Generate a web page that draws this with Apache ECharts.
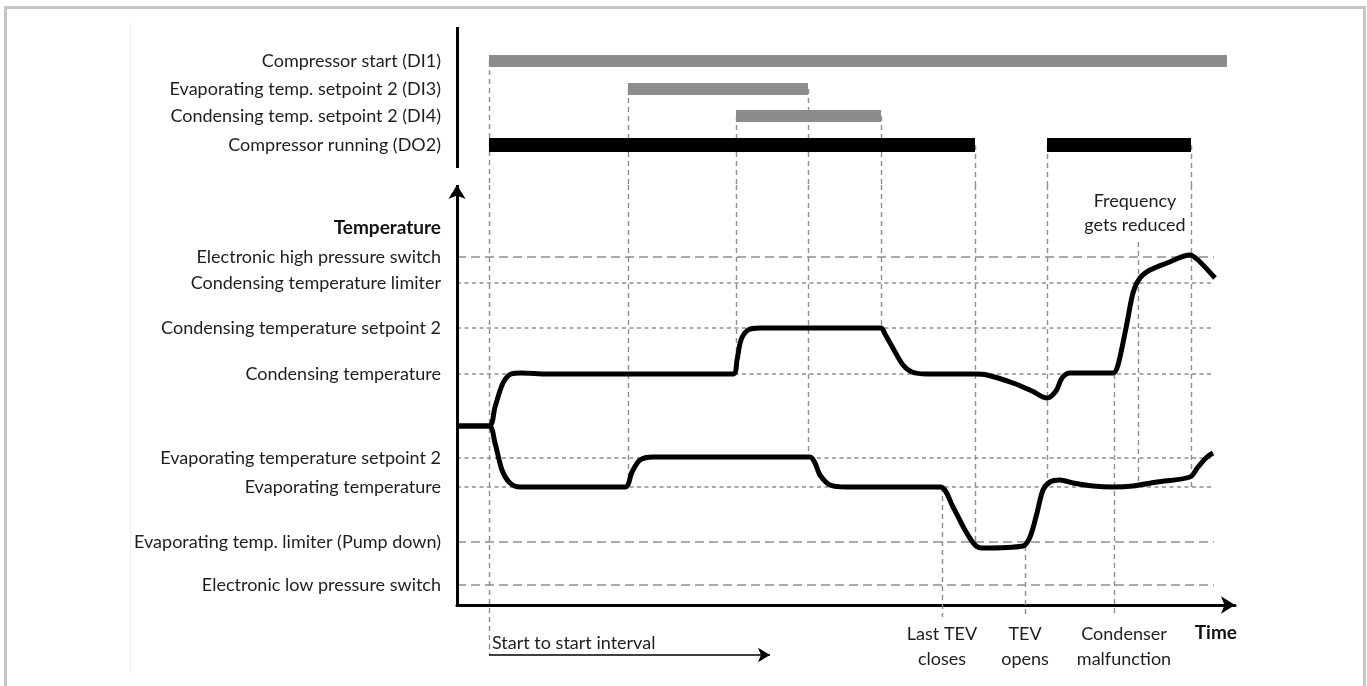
<!DOCTYPE html>
<html><head><meta charset="utf-8">
<script src="https://cdn.jsdelivr.net/npm/echarts@6/dist/echarts.min.js"></script>
<style>
html,body{margin:0;padding:0;background:#fff;overflow:hidden}
#frame{position:absolute;left:4px;top:6px;width:1362px;height:700px;border:3px solid #c6c6ca;border-bottom:none;box-sizing:border-box}
#faint{position:absolute;left:130px;top:22px;width:1px;height:651px;background:#eeeeee}
#chart{position:absolute;left:0;top:0;width:1367px;height:686px}
</style></head><body>
<div id="frame"></div><div id="faint"></div><div id="chart"></div>
<script>
// ---------- data ----------
const signalNames = ['Compressor start (DI1)', 'Evaporating temp. setpoint 2 (DI3)', 'Condensing temp. setpoint 2 (DI4)', 'Compressor running (DO2)'];
const signalRows = [34, 62, 89, 118];
const signalOn = [[[32, 770]], [[171, 351]], [[279, 424]], [[32, 518], [590, 734]]];

const levelNames = ['Electronic high pressure switch', 'Condensing temperature limiter', 'Condensing temperature setpoint 2', 'Condensing temperature', 'Evaporating temperature setpoint 2', 'Evaporating temperature', 'Evaporating temp. limiter (Pump down)', 'Electronic low pressure switch'];
const levelValues = [348, 322, 277, 231, 147, 118, 63, 20];
const levelLongDash = [true, false, false, false, false, false, true, true];
const levelEndTime = 757;

const condTime = [0, 32, 38, 46, 54, 64, 90, 276, 280, 284, 291, 303, 424, 428, 437, 446, 455, 470, 518, 530, 556, 575, 590, 599, 605, 613, 656, 661, 670, 676, 683, 693, 710, 733, 741, 758];
const condTemp = [179, 179, 198, 222, 231, 232, 231, 231, 245, 265, 275, 277, 277, 271, 255, 240, 233, 231, 231, 230, 222, 214, 207, 214, 227, 232, 232, 240, 282, 312, 327, 335, 342, 350, 345, 327];

const evapTime = [0, 32, 38, 45, 53, 63, 168, 175, 183, 196, 353, 358, 363, 373, 390, 483, 496, 508, 518, 525, 566, 573, 580, 586, 593, 603, 616, 636, 656, 676, 700, 733, 741, 750, 756];
const evapTemp = [179, 179, 162, 135, 122, 118, 118, 133, 145, 148, 148, 142, 130, 120, 118, 118, 98, 75, 60, 57, 59, 68, 92, 115, 123, 125, 122, 119, 118, 119, 123, 128, 138, 148, 152];

// guide lines: [time, signal row] in the signal panel
const topGuides = [[32, 34], [171, 62], [279, 89], [351, 62], [424, 89], [518, 118], [590, 118], [734, 118]];
// guide lines: [time, from temp, to temp] in the temperature panel
const bottomGuides = [[32, 420, -50], [171, 420, 118], [279, 420, 231], [351, 420, 148], [424, 420, 277], [518, 420, 58], [590, 420, 118], [734, 420, 118]];
const eventLines = [[485, 118, -12], [568, 59, -12], [657, 231, -12]];
const eventNames = ['Last TEV\ncloses', 'TEV\nopens', 'Condenser\nmalfunction'];
const freqLine = [681, 363, 118];
const freqName = 'Frequency\ngets reduced';
const intervalArrow = [32, 313, -50];
const intervalName = 'Start to start interval';

// ---------- layout / style ----------
const TIME_MAX = 778, TOP_MAX = 158, TEMP_MIN = -55, TEMP_MAX = 420;
const FONT = 'Lato';
const TXT = '#1e1e1e';
const GUIDE = '#8f8f8f';
const lbl = { fontFamily: FONT, fontSize: 18, color: TXT };

function bars(idxs) {
  const d = [];
  idxs.forEach(i => signalOn[i].forEach(([s, e]) => d.push([s, e, signalRows[i]])));
  return d;
}
function barRender(h, color) {
  return function (params, api) {
    const a = api.coord([api.value(0), api.value(2)]);
    const b = api.coord([api.value(1), api.value(2)]);
    return { type: 'rect', shape: { x: a[0], y: a[1] - h / 2, width: b[0] - a[0], height: h }, style: { fill: color } };
  };
}
const vDash = { color: GUIDE, width: 1.4, type: [5, 4] };

const chart = echarts.init(document.getElementById('chart'));
chart.setOption({
  animation: false,
  grid: [
    { left: 457, right: 132, top: 27, height: 158 },
    { left: 457, right: 132, top: 185, height: 475 }
  ],
  xAxis: [
    { gridIndex: 0, type: 'value', min: 0, max: TIME_MAX, show: false },
    { gridIndex: 1, type: 'value', min: 0, max: TIME_MAX,
      axisLine: { show: true, onZero: true, symbol: ['none', 'arrow'], symbolSize: [13, 14], lineStyle: { color: '#000', width: 3 } },
      axisTick: { show: false }, axisLabel: { show: false }, splitLine: { show: false },
      name: 'Time', nameLocation: 'end', nameGap: 2,
      nameTextStyle: { fontFamily: FONT, fontSize: 19, fontWeight: 'bold', color: '#111', align: 'right', verticalAlign: 'top', padding: [18, 0, 0, 0] } }
  ],
  yAxis: [
    { gridIndex: 0, type: 'value', min: 0, max: TOP_MAX, inverse: true,
      axisLine: { show: false }, axisTick: { show: false }, splitLine: { show: false },
      axisLabel: { customValues: signalRows, margin: 16, formatter: v => signalNames[signalRows.indexOf(v)], ...lbl } },
    { gridIndex: 1, type: 'value', min: TEMP_MIN, max: TEMP_MAX,
      axisLine: { show: false }, axisTick: { show: false }, splitLine: { show: false },
      axisLabel: { customValues: levelValues, margin: 16, formatter: v => levelNames[levelValues.indexOf(v)], ...lbl },
      name: 'Temperature', nameLocation: 'end', nameGap: -43,
      nameTextStyle: { fontFamily: FONT, fontSize: 19, fontWeight: 'bold', color: '#111', align: 'right', verticalAlign: 'middle', padding: [0, 16, 0, 0] } }
  ],
  series: [
    { type: 'custom', xAxisIndex: 0, yAxisIndex: 0, clip: false, z: 3,
      encode: { x: [0, 1], y: 2 }, data: bars([0, 1, 2]), renderItem: barRender(12, '#8c8c8c'),
      markLine: { silent: true, z: 1, symbol: 'none', label: { show: false }, lineStyle: vDash,
        data: topGuides.map(([t, r]) => [{ coord: [t, r] }, { coord: [t, TOP_MAX] }])
          .concat([[{ coord: [0, 0], lineStyle: { color: '#000', width: 3, type: 'solid' } }, { coord: [0, 141] }]]) } },
    { type: 'custom', xAxisIndex: 0, yAxisIndex: 0, clip: false, z: 3,
      encode: { x: [0, 1], y: 2 }, data: bars([3]), renderItem: barRender(14, '#000') },
    { type: 'line', xAxisIndex: 1, yAxisIndex: 1, data: [], clip: false, silent: true,
      markLine: { silent: true, z: 1, symbol: 'none', label: { show: false },
        data: levelValues.map((v, i) => [
          { coord: [0, v], lineStyle: { color: GUIDE, width: 1.5, type: levelLongDash[i] ? [9, 5] : [4, 3.5] } },
          { coord: [levelEndTime, v] }])
          .concat(bottomGuides.map(([t, a, b]) => [{ coord: [t, a], lineStyle: vDash }, { coord: [t, b] }]))
          .concat(eventLines.map(([t, a, b], i) => [
            { coord: [t, a], lineStyle: vDash, label: { show: true, position: 'end', distance: 5, formatter: eventNames[i], lineHeight: 25, ...lbl, padding: i === 2 ? [0, 0, 0, 20] : 0 } },
            { coord: [t, b] }]))
          .concat([[
            { coord: [freqLine[0], freqLine[1]], lineStyle: vDash, label: { show: true, position: 'start', distance: 5, formatter: freqName, lineHeight: 24, ...lbl, padding: [0, 6, 0, 0] } },
            { coord: [freqLine[0], freqLine[2]] }]])
      } },
    { type: 'line', xAxisIndex: 1, yAxisIndex: 1, data: [], clip: false, silent: true,
      markLine: { silent: true, z: 6, label: { show: false },
        data: [
          [{ coord: [0, 0], symbol: 'none', lineStyle: { color: '#000', width: 3, type: 'solid' } }, { coord: [0, TEMP_MAX], symbol: 'arrow', symbolSize: [13, 14] }],
          [{ coord: [intervalArrow[0], intervalArrow[2]], symbol: 'none', lineStyle: { color: '#000', width: 1.6, type: 'solid' },
             label: { show: true, position: 'insideStartTop', distance: 3, formatter: intervalName, ...lbl } },
           { coord: [intervalArrow[1], intervalArrow[2]], symbol: 'arrow', symbolSize: [11, 12] }]
        ] } },
    { name: 'Condensing', type: 'line', xAxisIndex: 1, yAxisIndex: 1, z: 4, smooth: 0.3, showSymbol: false, symbol: 'none',
      lineStyle: { color: '#000', width: 5 }, data: condTime.map((t, i) => [t, condTemp[i]]) },
    { name: 'Evaporating', type: 'line', xAxisIndex: 1, yAxisIndex: 1, z: 4, smooth: 0.3, showSymbol: false, symbol: 'none',
      lineStyle: { color: '#000', width: 5 }, data: evapTime.map((t, i) => [t, evapTemp[i]]) }
  ]
});
</script></body></html>
